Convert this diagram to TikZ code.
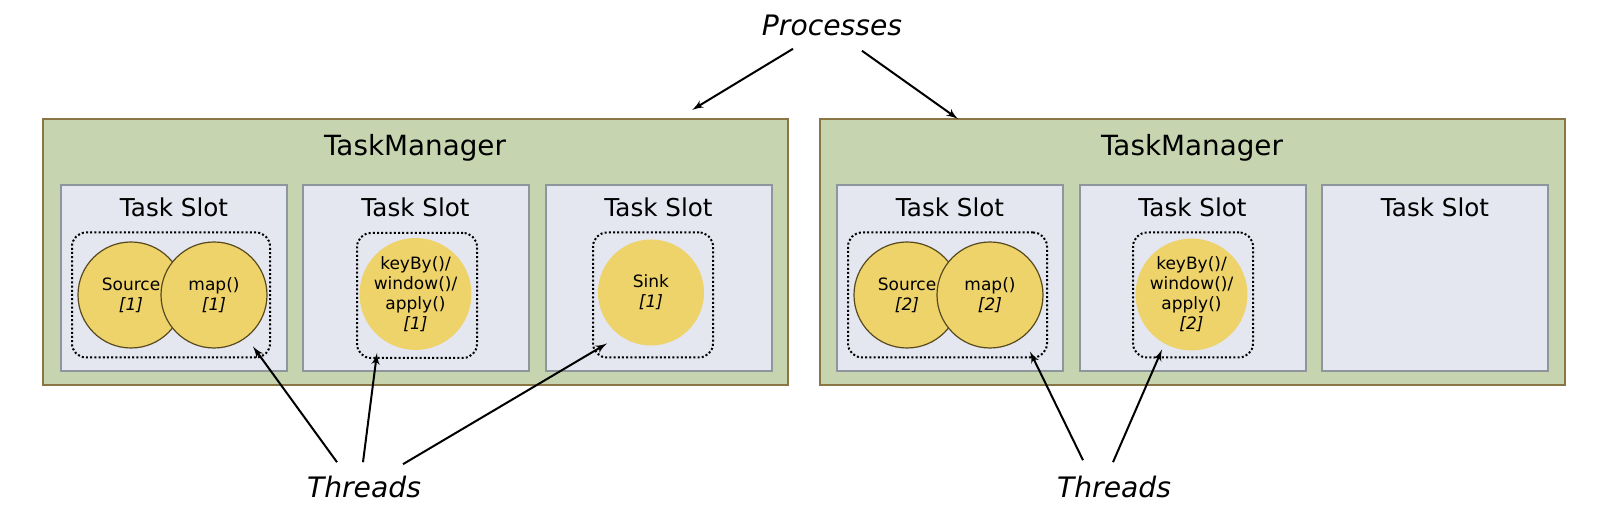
\documentclass[tikz,border=0pt]{standalone}
\usepackage{fontspec}
\setmainfont{DejaVu Sans}
\usepackage{xcolor}
\usepackage{tikz}
\usetikzlibrary{shapes,arrows}
\definecolor{tmgreen}{RGB}{198,213,176}
\definecolor{tmborder}{RGB}{138,118,68}
\definecolor{slotfill}{RGB}{228,230,240}
\definecolor{slotborder}{RGB}{140,150,156}
\definecolor{opyellow}{RGB}{237,211,106}
\definecolor{opborder}{RGB}{88,74,30}
\tikzstyle{manager} = [rectangle, draw=tmborder, fill=tmgreen, line width=1pt, minimum width=372.5pt, minimum height=133pt, inner sep=0pt]
\tikzstyle{slot} = [rectangle, draw=slotborder, fill=slotfill, line width=1pt, minimum width=113pt, minimum height=93pt, inner sep=0pt]
\tikzstyle{chainbox} = [rectangle, rounded corners=7pt, draw=black, line width=1pt, dash pattern=on 1pt off 1.1pt, minimum height=62.5pt, inner sep=0pt]
\tikzstyle{op} = [circle, fill=opyellow, minimum size=53pt, inner sep=0pt, align=center, font=\fontsize{8.5}{10}\selectfont]
\tikzstyle{opline} = [op, draw=opborder, line width=0.6pt]
\tikzstyle{mtitle} = [anchor=base, inner sep=0pt, font=\fontsize{13.9}{16}\selectfont]
\tikzstyle{stitle} = [anchor=base, inner sep=0pt, font=\fontsize{12.3}{15}\selectfont]
\tikzstyle{note} = [anchor=base, inner sep=7pt, font=\fontsize{14.1}{17}\selectfont\itshape]
\tikzstyle{line} = [draw, line width=1pt, -latex']

\begin{document}
\begin{tikzpicture}[x=0.5pt, y=-0.5pt]
\useasboundingbox (0,0) rectangle (1623,522);
% process 1
\node [manager] (tmA) at (415,252) {};
\node [mtitle] (tmAtext) at (415,156) {TaskManager};
\node [slot] (slotA1) at (174,278) {};
\node [slot] (slotA2) at (415.5,278) {};
\node [slot] (slotA3) at (658.5,278) {};
\node [stitle] at (174,217) {Task Slot};
\node [stitle] at (415.5,217) {Task Slot};
\node [stitle] at (658.5,217) {Task Slot};
\node [chainbox, minimum width=99pt] (grpA1) at (171,295) {};
\node [chainbox, minimum width=60pt] (grpA2) at (417,295.5) {};
\node [chainbox, minimum width=60pt] (grpA3) at (653,295) {};
\node [opline] (srcA) at (131,295) {Source\\\textit{[1]}};
\node [opline] (mapA) at (214,295) {map()\\\textit{[1]}};
\node [op] (keyA) at (415.5,294) {keyBy()/\\window()/\\apply()\\\textit{[1]}};
\node [op] (sinkA) at (651,292.5) {Sink\\\textit{[1]}};
% process 2
\node [manager] (tmB) at (1192,252) {};
\node [mtitle] (tmBtext) at (1192,156) {TaskManager};
\node [slot] (slotB1) at (950,278) {};
\node [slot] (slotB2) at (1192.5,278) {};
\node [slot] (slotB3) at (1435,278) {};
\node [stitle] at (950,217) {Task Slot};
\node [stitle] at (1192.5,217) {Task Slot};
\node [stitle] at (1435,217) {Task Slot};
\node [chainbox, minimum width=99.5pt] (grpB1) at (947.5,295) {};
\node [chainbox, minimum width=60pt] (grpB2) at (1193,295) {};
\node [opline] (srcB) at (907,295) {Source\\\textit{[2]}};
\node [opline] (mapB) at (990,295) {map()\\\textit{[2]}};
\node [op] (keyB) at (1191.5,294.5) {keyBy()/\\window()/\\apply()\\\textit{[2]}};
% labels
\node [note, inner sep=6pt] (proc) at (832,36) {Processes};
\node [note] (thrA) at (364,498) {Threads};
\node [note] (thrB) at (1114,498) {Threads};
\coordinate (tipA) at (692,110);
\coordinate (tipB) at (958,119);
\path [line] ([xshift=-19.5pt]proc.south) -- (tipA);
\path [line] ([xshift=15pt,yshift=-1pt]proc.south) -- (tipB);
\path [line] ([xshift=-13.5pt]thrA.north) -- ([shift={(-9pt,6pt)}]grpA1.south east);
\path [line] ([xshift=-0.5pt]thrA.north) -- ([shift={(10.5pt,3pt)}]grpA2.south west);
\path [line] ([xshift=19.5pt,yshift=-1pt]thrA.north) -- ([shift={(7.5pt,7.5pt)}]grpA3.south west);
\path [line] ([xshift=-15.5pt,yshift=1pt]thrB.north) -- ([shift={(-9pt,3.5pt)}]grpB1.south east);
\path [line] ([xshift=-0.5pt]thrB.north) -- ([shift={(15pt,4.5pt)}]grpB2.south west);
\end{tikzpicture}
\end{document}
